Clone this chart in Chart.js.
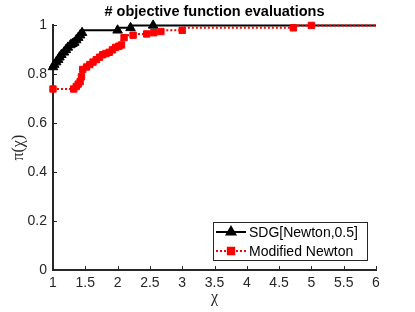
<!DOCTYPE html>
<html>
<head>
<meta charset="utf-8">
<script src="https://cdn.jsdelivr.net/npm/chart.js@4.4.0/dist/chart.umd.min.js"></script>
<style>
  body { margin: 0; background: #fff; }
  #wrap { width: 415px; height: 312px; }
</style>
</head>
<body>
<div id="wrap"><canvas id="myChart" width="415" height="312"></canvas></div>
<script>
// performance profile
const sdgX = [1.0, 1.02, 1.05, 1.08, 1.1, 1.13, 1.17, 1.2, 1.23, 1.27, 1.3, 1.33, 1.36, 1.39, 1.42, 1.45, 2.0, 2.2, 2.55, 6];
const sdgY = [0.83, 0.84, 0.85, 0.86, 0.87, 0.88, 0.89, 0.90, 0.91, 0.92, 0.925, 0.93, 0.94, 0.95, 0.96, 0.97, 0.98, 0.99, 1.0, 1.0];

const newtonX = [1.0, 1.32, 1.36, 1.39, 1.42, 1.44, 1.46, 1.52, 1.57, 1.62, 1.67, 1.72, 1.77, 1.82, 1.87, 1.92, 1.97, 2.02, 2.06, 2.1, 2.24, 2.45, 2.56, 2.67, 3.0, 4.72, 5.0, 6];
const newtonY = [0.74, 0.74, 0.75, 0.76, 0.77, 0.79, 0.82, 0.83, 0.84, 0.85, 0.86, 0.87, 0.88, 0.885, 0.89, 0.90, 0.91, 0.915, 0.92, 0.95, 0.96, 0.965, 0.97, 0.975, 0.98, 0.99, 1.0, 1.0];

const xMin = 1, xMax = 6, xStep = 0.5;
const yMin = 0, yMax = 1, yStep = 0.2;

const toPoints = (xs, ys) => xs.map((x, i) => ({ x: x, y: ys[i] }));
// no marker on the closing point at x = 6
const radii = (xs, r) => xs.map((x, i) => (i === xs.length - 1 ? 0 : r));

const axisColor = '#262626';

// MATLAB style ticks pointing into the plot
const inwardTicks = {
    id: 'inwardTicks',
    beforeDatasetsDraw(chart) {
        const { ctx, chartArea, scales } = chart;
        ctx.save();
        ctx.strokeStyle = axisColor;
        ctx.lineWidth = 1;
        scales.x.ticks.forEach(t => {
            const px = Math.round(scales.x.getPixelForValue(t.value)) + 0.5;
            ctx.beginPath();
            ctx.moveTo(px, chartArea.bottom);
            ctx.lineTo(px, chartArea.bottom - 4);
            ctx.stroke();
        });
        scales.y.ticks.forEach(t => {
            const py = Math.round(scales.y.getPixelForValue(t.value)) + 0.5;
            ctx.beginPath();
            ctx.moveTo(chartArea.left, py);
            ctx.lineTo(chartArea.left + 4, py);
            ctx.stroke();
        });
        ctx.restore();
    }
};

// legend box inside the lower right corner
const boxLegend = {
    id: 'boxLegend',
    afterDraw(chart) {
        const { ctx, chartArea } = chart;
        const w = 154, h = 38;
        const right = chartArea.right - 9;
        const bottom = chartArea.bottom - 10;
        const left = right - w, top = bottom - h;
        ctx.save();
        ctx.fillStyle = '#fff';
        ctx.fillRect(left, top, w, h);
        ctx.strokeStyle = axisColor;
        ctx.lineWidth = 1;
        ctx.strokeRect(left + 0.5, top + 0.5, w, h);
        ctx.font = '14px "Liberation Sans", Arial, sans-serif';
        ctx.textBaseline = 'middle';
        chart.data.datasets.forEach((ds, i) => {
            const y = top + 10 + i * 19;
            ctx.strokeStyle = ds.borderColor;
            ctx.lineWidth = ds.borderWidth;
            ctx.setLineDash(ds.borderDash || []);
            ctx.beginPath();
            ctx.moveTo(left + 3, y);
            ctx.lineTo(left + 33, y);
            ctx.stroke();
            ctx.setLineDash([]);
            ctx.fillStyle = ds.pointBackgroundColor;
            ctx.strokeStyle = ds.pointBackgroundColor;
            Chart.helpers.drawPoint(ctx, { pointStyle: ds.pointStyle, radius: ds.legendRadius, borderWidth: 1, rotation: 0 }, left + 18, y);
            ctx.fillStyle = '#000';
            ctx.fillText(ds.label, left + 36, y + 1);
        });
        ctx.restore();
    }
};

const tickFont = { family: '"Liberation Sans", Arial, sans-serif', size: 14 };

new Chart(document.getElementById('myChart'), {
    type: 'line',
    data: {
        datasets: [
            {
                label: 'SDG[Newton,0.5]',
                data: toPoints(sdgX, sdgY),
                stepped: 'after',
                borderColor: '#000',
                borderWidth: 2,
                pointStyle: 'triangle',
                pointRadius: radii(sdgX, 5.5),
                legendRadius: 5,
                pointBackgroundColor: '#000',
                pointBorderColor: '#000',
                pointBorderWidth: 1,
                clip: false,
                order: 1
            },
            {
                label: 'Modified Newton',
                data: toPoints(newtonX, newtonY),
                stepped: 'after',
                borderColor: '#ff0000',
                borderWidth: 2,
                borderDash: [2, 2],
                pointStyle: 'rect',
                pointRadius: radii(newtonX, 4.5),
                legendRadius: 4.5,
                pointBackgroundColor: '#ff0000',
                pointBorderColor: '#ff0000',
                pointBorderWidth: 1,
                clip: false,
                order: 0
            }
        ]
    },
    options: {
        responsive: false,
        animation: false,
        devicePixelRatio: 1,
        layout: { padding: { left: 0, right: 39, top: 0, bottom: 0 } },
        scales: {
            x: {
                type: 'linear',
                min: xMin,
                max: xMax,
                ticks: {
                    stepSize: xStep,
                    color: axisColor,
                    font: tickFont,
                    padding: 5,
                    maxRotation: 0,
                    callback: v => String(v)
                },
                grid: { display: false, drawTicks: false },
                border: { display: true, color: axisColor, width: 2 },
                title: {
                    display: true,
                    text: 'χ',
                    color: axisColor,
                    font: { family: '"Liberation Serif", serif', size: 16 },
                    padding: { top: 0, bottom: 5 }
                },
                afterFit: s => { s.height = 42; }
            },
            y: {
                min: yMin,
                max: yMax,
                ticks: {
                    stepSize: yStep,
                    color: axisColor,
                    font: tickFont,
                    padding: 6,
                    callback: v => String(Math.round(v * 10) / 10)
                },
                grid: { display: false, drawTicks: false },
                border: { display: true, color: axisColor, width: 2 },
                title: {
                    display: true,
                    text: 'π(χ)',
                    color: axisColor,
                    font: { family: '"Liberation Serif", serif', size: 16 },
                    padding: { top: 9, bottom: 0 }
                },
                afterFit: s => { s.width = 53; }
            }
        },
        plugins: {
            legend: { display: false },
            tooltip: { enabled: false },
            title: {
                display: true,
                fullSize: false,
                text: '# objective function evaluations',
                color: '#000',
                font: { family: '"Liberation Sans", Arial, sans-serif', size: 14.5, weight: 'bold' },
                padding: { top: 3, bottom: 5 }
            }
        }
    },
    plugins: [inwardTicks, boxLegend]
});
</script>
</body>
</html>
